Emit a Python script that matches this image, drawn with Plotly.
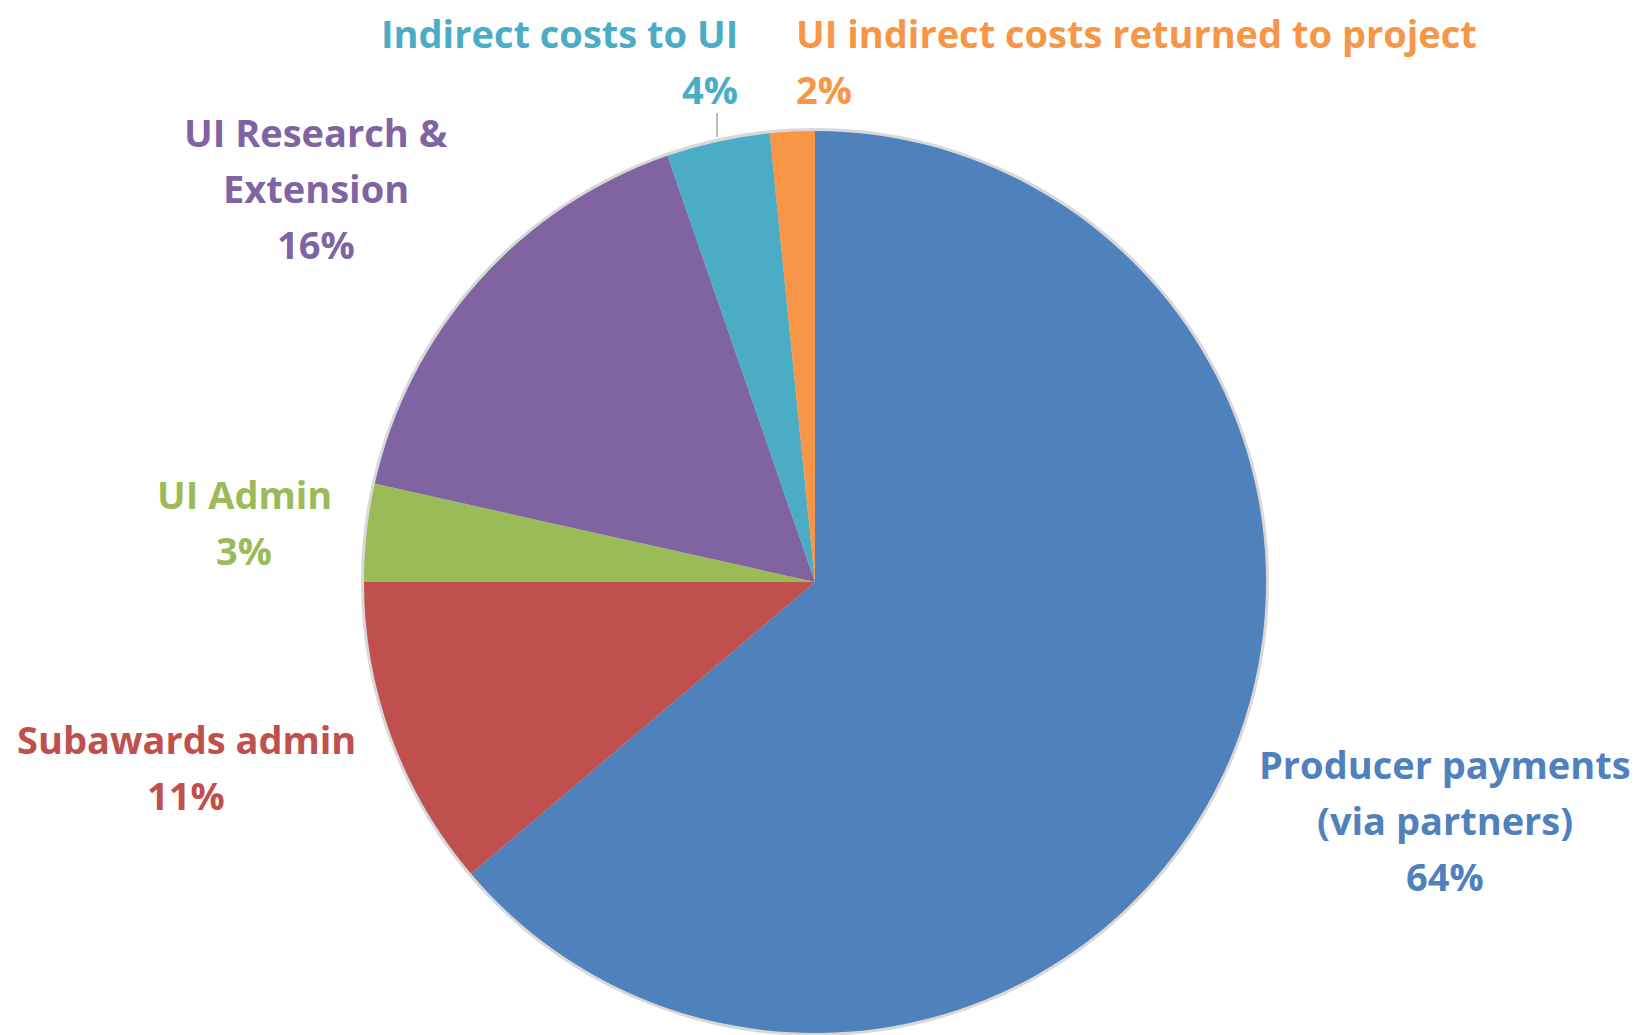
import plotly.graph_objects as go

# ---- data ----
categories = ["Producer payments<br>(via partners)", "Subawards admin", "UI Admin",
              "UI Research &<br>Extension", "Indirect costs to UI",
              "UI indirect costs returned to project"]
values = [63.8, 11.2, 3.5, 16.2, 3.7, 1.6]
pct_labels = ["64%", "11%", "3%", "16%", "4%", "2%"]
colors = ["#4F81BD", "#C0504D", "#9BBB59", "#8064A2", "#4BACC6", "#F79646"]

W, H = 1645, 1035
OFF = 8  # page body margin
def px(x):
    return (x - OFF) / W
def py(y):
    return 1 - (y - OFF) / H

cx, cy, r = 815, 582, 451
dom = dict(x=[px(cx - r), px(cx + r)], y=[py(cy + r), py(cy - r)])

fig = go.Figure()
# soft shadow ring behind the pie
fig.add_trace(go.Pie(values=[1], marker=dict(colors=["rgba(200,200,200,0.6)"],
                                             line=dict(color="rgba(190,190,190,0.6)", width=6)),
                     textinfo="none", hoverinfo="skip", showlegend=False, sort=False,
                     domain=dom))
fig.add_trace(go.Pie(values=values, labels=categories, marker=dict(colors=colors, line=dict(width=0)),
                     sort=False, direction="clockwise", rotation=0, textinfo="none",
                     showlegend=False, domain=dom))

# label layout: (x, xanchor, first line y) per slice
FS = 38
LH = 56
placements = [
    (1445, "center", 764),
    (186, "center", 739),
    (244, "center", 494),
    (316, "center", 132),
    (740, "right", 33),
    (794, "left", 33),
]
font_family = "Open Sans"
for cat, pct, col, (x, xa, y0) in zip(categories, pct_labels, colors, placements):
    lines = cat.split("<br>") + [pct]
    for i, ln in enumerate(lines):
        fig.add_annotation(x=px(x), y=py(y0 + i * LH), xref="paper", yref="paper",
                           text="<b>" + ln.replace("&", "&amp;") + "</b>", showarrow=False,
                           xanchor=xa, yanchor="middle",
                           font=dict(family=font_family, size=FS, color=col))

# leader line for the small teal slice
fig.add_shape(type="line", xref="paper", yref="paper",
              x0=px(717), x1=px(717), y0=py(113), y1=py(137),
              line=dict(color="#A6A6A6", width=1.5))

fig.update_layout(width=W, height=H, margin=dict(l=0, r=0, t=0, b=0),
                  paper_bgcolor="white", plot_bgcolor="white")
fig.write_html("out.html")
